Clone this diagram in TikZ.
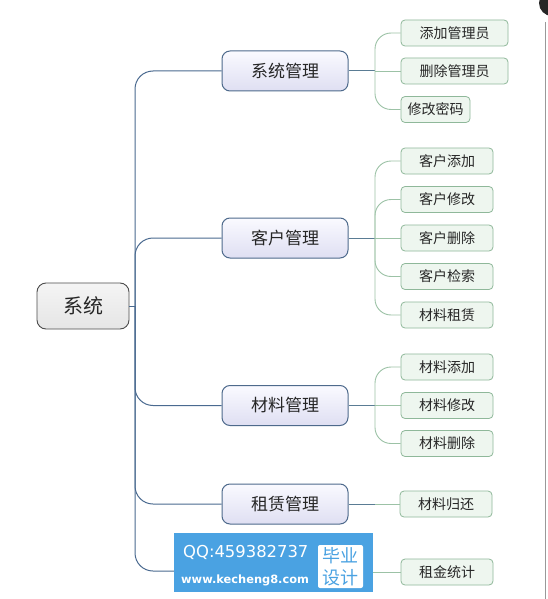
\documentclass[tikz,border=0pt]{standalone}
\usepackage{fontspec}
\newfontfamily\cjk{Noto Sans CJK SC}
\newfontfamily\wmfont{DejaVu Sans}
\definecolor{trunkc}{HTML}{4A6A90}
\definecolor{leafline}{HTML}{9CC2A6}
\definecolor{leafdraw}{HTML}{8FB89A}
\definecolor{leaffill}{HTML}{EEF6EF}
\definecolor{brdraw}{HTML}{4E6A8C}
\definecolor{wmblue}{HTML}{4AA2E2}
\tikzset{
  rootbox/.style={draw=black!70, line width=0.9pt, rounded corners=9pt, top color=white!96!black, bottom color=white!90!black, minimum width=92pt, minimum height=46pt, font=\cjk\fontsize{20}{24}\selectfont, text=black!85},
  brbox/.style={draw=brdraw, line width=1pt, rounded corners=8pt, top color=blue!2!white, bottom color=blue!8!white!95!black, minimum width=126pt, minimum height=40pt, font=\cjk\fontsize{17}{20}\selectfont, text=black!85},
  leafbox/.style={draw=leafdraw, line width=0.8pt, rounded corners=4pt, fill=leaffill, minimum height=26pt, font=\cjk\fontsize{14}{17}\selectfont, text=black!85, inner xsep=0pt},
  trunk/.style={draw=trunkc, line width=1pt},
  leafconn/.style={draw=leafline, line width=0.9pt, rounded corners=16pt},
  brconn/.style={draw=trunkc!80!leafline, line width=1pt}
}
\begin{document}
\begin{tikzpicture}[x=1pt,y=-1pt]
\useasboundingbox[fill=white] (0,0) rectangle (548,599);
% right edge decorations
\draw[black!40, line width=1pt] (545,22) -- (545,599);
\fill[black!85] (552,3) circle (13);

% root
\node[rootbox] (root) at (83,306) {系统};
\coordinate (tr) at (135,306);
\draw[trunk] (root.east) -- (tr);

% branches
\node[brbox] (b1) at (285,71) {系统管理};
\node[brbox] (b2) at (285,238) {客户管理};
\node[brbox] (b3) at (285,405.5) {材料管理};
\node[brbox] (b4) at (285,504) {租赁管理};
\coordinate (b5) at (222,571);

\draw[trunk, rounded corners=18pt] (tr) |- (b1.west);
\draw[trunk, rounded corners=18pt] (tr) |- (b2.west);
\draw[trunk, rounded corners=18pt] (tr) |- (b3.west);
\draw[trunk, rounded corners=18pt] (tr) |- (b4.west);
\draw[trunk, rounded corners=18pt] (tr) |- (b5);

% leaves
\node[leafbox, minimum width=107pt] (l11) at (454.5,33) {添加管理员};
\node[leafbox, minimum width=107pt] (l12) at (454.5,71) {删除管理员};
\node[leafbox, minimum width=69pt] (l13) at (435.5,109.5) {修改密码};

\node[leafbox, minimum width=92pt] (l21) at (447,161) {客户添加};
\node[leafbox, minimum width=92pt] (l22) at (447,199.5) {客户修改};
\node[leafbox, minimum width=92pt] (l23) at (447,238) {客户删除};
\node[leafbox, minimum width=92pt] (l24) at (447,276.5) {客户检索};
\node[leafbox, minimum width=92pt] (l25) at (447,315) {材料租赁};

\node[leafbox, minimum width=92pt] (l31) at (447,367) {材料添加};
\node[leafbox, minimum width=92pt] (l32) at (447,405.5) {材料修改};
\node[leafbox, minimum width=92pt] (l33) at (447,443.5) {材料删除};

\node[leafbox, minimum width=92pt] (l41) at (446,504) {材料归还};
\node[leafbox, minimum width=92pt] (l51) at (447,572) {租金统计};

% spines
\coordinate (s1) at (375,71);
\coordinate (s2) at (375,238);
\coordinate (s3) at (375,405.5);
\coordinate (s4) at (375,504);
\coordinate (s5) at (373,572);

\draw[brconn] (b1.east) -- (s1);
\draw[brconn] (b2.east) -- (s2);
\draw[brconn] (b3.east) -- (s3);
\draw[brconn] (b4.east) -- (s4);

\foreach \s/\l in {s1/l11,s1/l13,s2/l21,s2/l22,s2/l24,s2/l25,s3/l31,s3/l33}{
  \draw[leafconn] (\s) |- (\l.west);
}
\foreach \s/\l in {s1/l12,s2/l23,s3/l32,s4/l41,s5/l51}{
  \draw[leafconn] (\s) -- (\l.west);
}

% watermark
\fill[wmblue] (174,533) rectangle (373,592);
\node[text=white, font=\wmfont\fontsize{16.4}{18}\selectfont, anchor=west, inner sep=0pt] (wq) at (183,552.5) {QQ:459382737};
\node[text=white, font=\wmfont\bfseries\fontsize{11.4}{13}\selectfont, anchor=west, inner sep=0pt] (ww) at (181,580) {www.kecheng8.com};
\node[fill=white, rounded corners=2pt, minimum width=45pt, minimum height=43pt, inner sep=0pt] (wb) at (340.5,566.5) {};
\node[text=wmblue, font=\cjk\fontsize{18}{20}\selectfont, inner sep=0pt] (wb1) at (340.5,556) {毕业};
\node[text=wmblue, font=\cjk\fontsize{18}{20}\selectfont, inner sep=0pt] (wb2) at (340.5,577.5) {设计};
\end{tikzpicture}
\end{document}
